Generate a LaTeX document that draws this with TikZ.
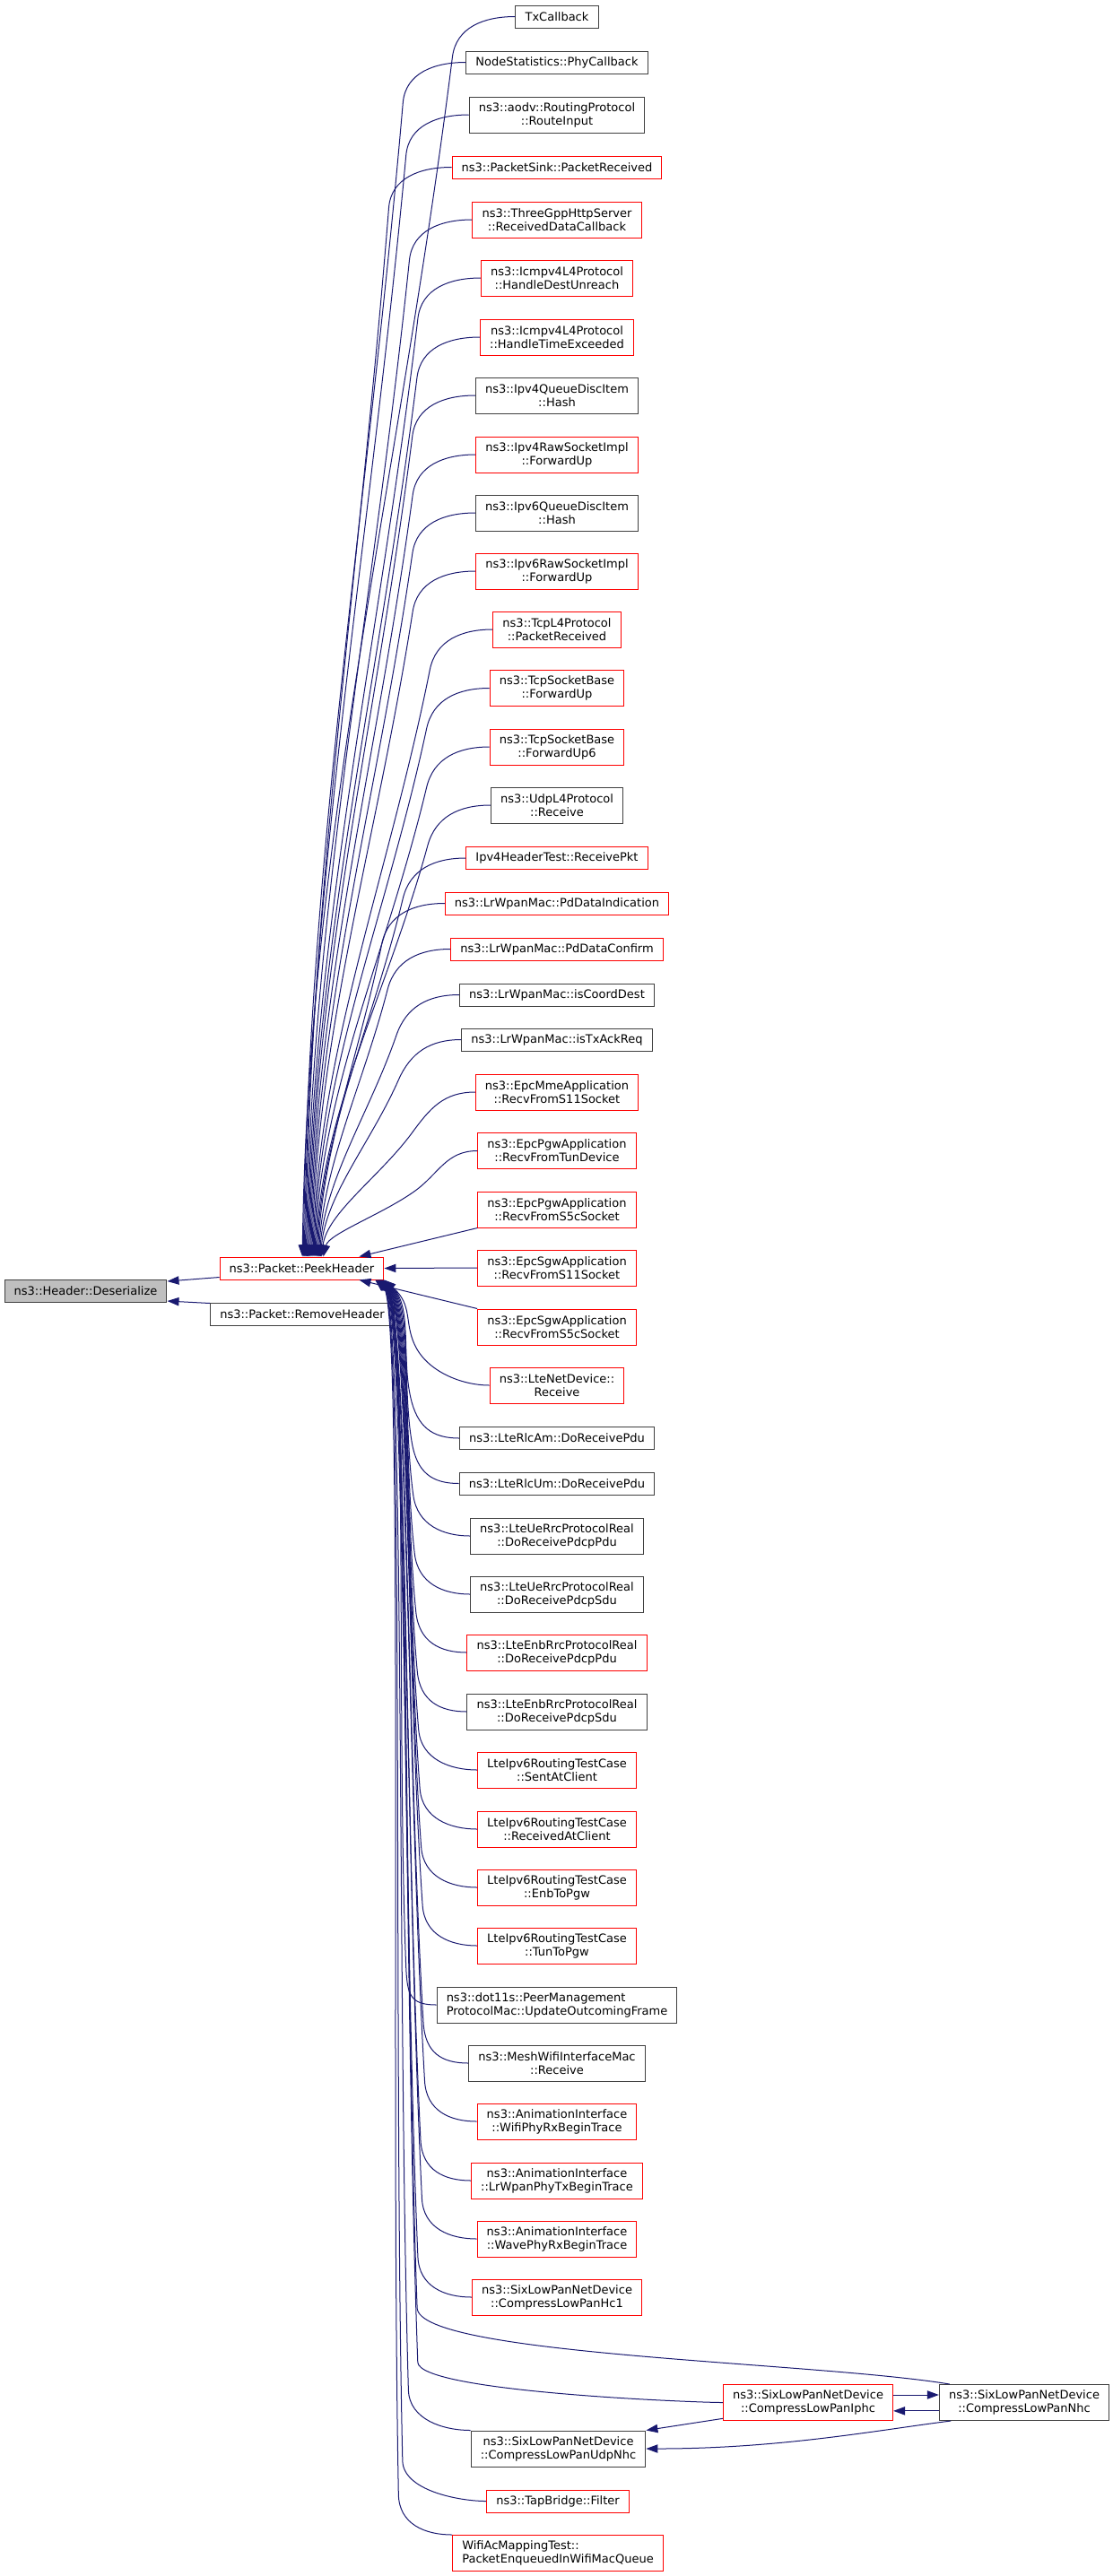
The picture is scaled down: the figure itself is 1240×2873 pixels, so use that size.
\documentclass[tikz,border=0pt]{standalone}
\usepackage{fontspec}
\setmainfont{DejaVu Sans}
\usepackage{xcolor}
\definecolor{edgeblue}{RGB}{25,25,112}
\definecolor{boxgray}{RGB}{64,64,64}
\usetikzlibrary{calc,arrows.meta}

\tikzset{
  fn/.style={draw=boxgray, line width=0.75pt, inner xsep=8pt, inner ysep=0pt,
    minimum height=18.75pt, font=\fontsize{9.75pt}{11.25pt}\selectfont, align=center},
  fntwo/.style={fn, minimum height=30pt},
  trunc/.style={draw=red},
  callarrow/.style={edgeblue, line width=0.75pt, -{Triangle[length=9.75pt,width=7pt]}},
}

\begin{document}
\begin{tikzpicture}[x=0.75pt,y=-0.75pt]
  \useasboundingbox (0,0) rectangle (1240,2873);

  % callee and the two packet functions
  \node[fn, fill=black!25] (des) at (95.5,1440) {ns3::Header::Deserialize};
  \node[fn, trunc] (peek) at (336.5,1414.5) {ns3::Packet::PeekHeader};
  \node[fn] (rem) at (337,1465.5) {ns3::Packet::RemoveHeader};

  % callers of PeekHeader
  \node[fn] (tx) at (621,18.5) {TxCallback};
  \node[fn] (nstat) at (621,69.5) {NodeStatistics::PhyCallback};
  \node[fntwo] (aodv) at (621,128) {ns3::aodv::RoutingProtocol\\::RouteInput};
  \node[fn, trunc] (psink) at (621,186.5) {ns3::PacketSink::PacketReceived};
  \node[fntwo, trunc] (http) at (621,245) {ns3::ThreeGppHttpServer\\::ReceivedDataCallback};
  \node[fntwo, trunc] (icmpdu) at (621,310) {ns3::Icmpv4L4Protocol\\::HandleDestUnreach};
  \node[fntwo, trunc] (icmpte) at (621,376) {ns3::Icmpv4L4Protocol\\::HandleTimeExceeded};
  \node[fntwo] (qfourhash) at (621,441) {ns3::Ipv4QueueDiscItem\\::Hash};
  \node[fntwo, trunc] (rawfour) at (621,507) {ns3::Ipv4RawSocketImpl\\::ForwardUp};
  \node[fntwo] (qsixhash) at (621,572) {ns3::Ipv6QueueDiscItem\\::Hash};
  \node[fntwo, trunc] (rawsix) at (621,637) {ns3::Ipv6RawSocketImpl\\::ForwardUp};
  \node[fntwo, trunc] (tcpl) at (621,702) {ns3::TcpL4Protocol\\::PacketReceived};
  \node[fntwo, trunc] (tcpfu) at (621,767.5) {ns3::TcpSocketBase\\::ForwardUp};
  \node[fntwo, trunc] (tcpfusix) at (621,833) {ns3::TcpSocketBase\\::ForwardUp6};
  \node[fntwo] (udp) at (621,898) {ns3::UdpL4Protocol\\::Receive};
  \node[fn, trunc] (vtest) at (621,957) {Ipv4HeaderTest::ReceivePkt};
  \node[fn, trunc] (pdind) at (621,1007.5) {ns3::LrWpanMac::PdDataIndication};
  \node[fn, trunc] (pdconf) at (621,1058.5) {ns3::LrWpanMac::PdDataConfirm};
  \node[fn] (coord) at (621,1109.5) {ns3::LrWpanMac::isCoordDest};
  \node[fn] (txack) at (621,1159.5) {ns3::LrWpanMac::isTxAckReq};
  \node[fntwo, trunc] (mme) at (621,1218) {ns3::EpcMmeApplication\\::RecvFromS11Socket};
  \node[fntwo, trunc] (pgwtun) at (621,1283.5) {ns3::EpcPgwApplication\\::RecvFromTunDevice};
  \node[fntwo, trunc] (pgwsc) at (621,1349) {ns3::EpcPgwApplication\\::RecvFromS5cSocket};
  \node[fntwo, trunc] (sgwse) at (621,1414) {ns3::EpcSgwApplication\\::RecvFromS11Socket};
  \node[fntwo, trunc] (sgwsc) at (621,1480) {ns3::EpcSgwApplication\\::RecvFromS5cSocket};
  \node[fntwo, trunc] (ltend) at (621,1545) {ns3::LteNetDevice::\\Receive};
  \node[fn] (rlcam) at (621,1604) {ns3::LteRlcAm::DoReceivePdu};
  \node[fn] (rlcum) at (621,1654.5) {ns3::LteRlcUm::DoReceivePdu};
  \node[fntwo] (uepdu) at (621,1713) {ns3::LteUeRrcProtocolReal\\::DoReceivePdcpPdu};
  \node[fntwo] (uesdu) at (621,1778) {ns3::LteUeRrcProtocolReal\\::DoReceivePdcpSdu};
  \node[fntwo, trunc] (enbpdu) at (621,1843) {ns3::LteEnbRrcProtocolReal\\::DoReceivePdcpPdu};
  \node[fntwo] (enbsdu) at (621,1909) {ns3::LteEnbRrcProtocolReal\\::DoReceivePdcpSdu};
  \node[fntwo, trunc] (sent) at (621,1974) {LteIpv6RoutingTestCase\\::SentAtClient};
  \node[fntwo, trunc] (recvd) at (621,2040) {LteIpv6RoutingTestCase\\::ReceivedAtClient};
  \node[fntwo, trunc] (enbpgw) at (621,2105) {LteIpv6RoutingTestCase\\::EnbToPgw};
  \node[fntwo, trunc] (tunpgw) at (621,2170) {LteIpv6RoutingTestCase\\::TunToPgw};
  \node[fntwo, align=left] (dotes) at (621,2236) {ns3::dot11s::PeerManagement\\ProtocolMac::UpdateOutcomingFrame};
  \node[fntwo] (mesh) at (621,2301) {ns3::MeshWifiInterfaceMac\\::Receive};
  \node[fntwo, trunc] (wifirx) at (621,2366) {ns3::AnimationInterface\\::WifiPhyRxBeginTrace};
  \node[fntwo, trunc] (lrtx) at (621,2432) {ns3::AnimationInterface\\::LrWpanPhyTxBeginTrace};
  \node[fntwo, trunc] (waverx) at (621,2497) {ns3::AnimationInterface\\::WavePhyRxBeginTrace};
  \node[fntwo, trunc] (hcone) at (621,2562) {ns3::SixLowPanNetDevice\\::CompressLowPanHc1};
  \node[fntwo, trunc] (iphc) at (901,2679.5) {ns3::SixLowPanNetDevice\\::CompressLowPanIphc};
  \node[fntwo] (nhc) at (1142,2679.5) {ns3::SixLowPanNetDevice\\::CompressLowPanNhc};
  \node[fntwo] (udpnhc) at (622.5,2731) {ns3::SixLowPanNetDevice\\::CompressLowPanUdpNhc};
  \node[fn, trunc] (tap) at (622,2789.5) {ns3::TapBridge::Filter};
  \node[fntwo, trunc, align=left] (wifiac) at (622,2847.5) {WifiAcMappingTest::\\PacketEnqueuedInWifiMacQueue};

  % into Deserialize
  \draw[callarrow] ([yshift=2.25pt]peek.south west) -- ([yshift=-1.5pt]des.north east);
  \draw[callarrow] ([yshift=-0.75pt]rem.north west) -- ([yshift=1.5pt]des.south east);

  % upper fan, into the top of PeekHeader
  \foreach \nm/\sh in {tx/0.5pt, nstat/1.3pt, aodv/2.1pt, psink/2.9pt, http/3.7pt,
      icmpdu/4.5pt, icmpte/5.3pt, qfourhash/6.1pt, rawfour/6.9pt, qsixhash/7.7pt,
      rawsix/8.5pt, tcpl/9.3pt, tcpfu/10.1pt, tcpfusix/10.9pt, udp/11.7pt,
      vtest/12.5pt, pdind/13.3pt, pdconf/14.1pt, coord/14.9pt, txack/15.7pt,
      mme/16.5pt, pgwtun/18pt} {
    \coordinate (tip) at ([xshift=\sh]peek.north);
    \coordinate (via) at ($(\nm.west)+(-70,45)$);
    \draw[callarrow] (\nm.west) .. controls +(-35,0) and ($(via)!-25pt!(tip)$) .. (via)
      .. controls ($(via)!0.35!(tip)$) and ($(tip)!0.35!(tip |- via)+(6,0)$) .. (tip);
  }

  % the three in the middle
  \draw[callarrow] (pgwsc.south west) -- ([xshift=-21pt]peek.north east);
  \draw[callarrow] (sgwse.west) -- (peek.east);
  \draw[callarrow] (sgwsc.north west) -- ([xshift=-21pt]peek.south east);

  % lower fan, into the bottom right of PeekHeader
  \foreach \nm/\an/\sh/\vx in {ltend/west/0pt/34, rlcam/west/-0.4pt/30,
      rlcum/west/-0.8pt/32, uepdu/west/-1.2pt/34, uesdu/west/-1.6pt/36,
      enbpdu/west/-2pt/38, enbsdu/west/-2.4pt/40, sent/west/-2.8pt/42,
      recvd/west/-3.2pt/44, enbpgw/west/-3.6pt/46, tunpgw/west/-4pt/48,
      dotes/west/-4.4pt/30, mesh/west/-4.8pt/50, wifirx/west/-5.2pt/52,
      lrtx/west/-5.6pt/48, waverx/west/-6pt/50, hcone/west/-6.4pt/46,
      iphc/west/-5pt/44, udpnhc/north west/-6.8pt/36, tap/west/-7.2pt/30,
      wifiac/north west/-7.6pt/26} {
    \coordinate (tip) at ([xshift=\sh]peek.south east);
    \coordinate (via) at ($(tip |- \nm.\an)+(\vx,-45)$);
    \draw[callarrow] (\nm.\an) .. controls +(-30,0) and ($(via)!-25pt!(tip)$) .. (via)
      .. controls ($(via)!0.35!(tip)$) and ($(tip)+(32,28)$) .. (tip);
  }

  % CompressLowPanNhc goes round the Iphc box
  \coordinate (tip) at ([xshift=-4pt]peek.south east);
  \coordinate (via) at ($(tip |- nhc.north)+(42,-85)$);
  \draw[callarrow] ([xshift=9pt]nhc.north west) .. controls +(-150,-25) and ($(via)!-40pt!(tip)$) .. (via)
    .. controls ($(via)!0.35!(tip)$) and ($(tip)+(32,28)$) .. (tip);

  % among the SixLowPan functions
  \draw[callarrow] ([yshift=6.4pt]iphc.east) -- ([yshift=6.4pt]nhc.west);
  \draw[callarrow] ([yshift=-7pt]nhc.west) -- ([yshift=-7pt]iphc.east);
  \draw[callarrow] ([yshift=2pt]iphc.south west) -- (udpnhc.north east);
  \draw[callarrow] ([xshift=10pt]nhc.south west) .. controls +(-80,10) and +(150,0) .. (udpnhc.east);
\end{tikzpicture}
\end{document}
